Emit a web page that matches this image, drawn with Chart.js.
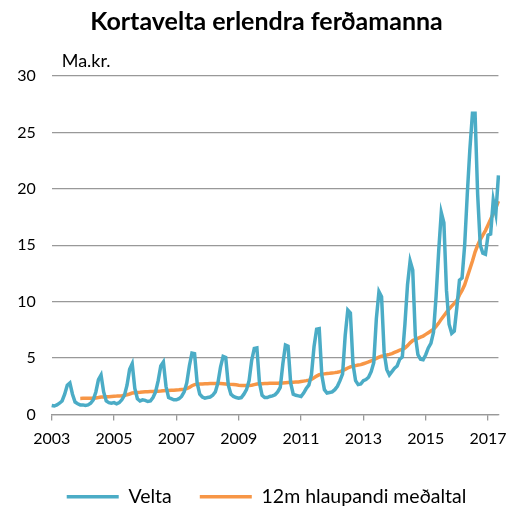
<!DOCTYPE html>
<html>
<head>
<meta charset="utf-8">
<script src="https://cdn.jsdelivr.net/npm/chart.js@4"></script>
<style>
  html, body { margin: 0; padding: 0; background: #fff; }
</style>
</head>
<body>
<canvas id="chartKortavelta" width="516" height="506"></canvas>
<script>
// Mánaðarleg kortavelta, ma.kr., jan 2003 - maí 2017
const velta = [
  0.8, 0.75, 0.85, 1.0, 1.2, 1.8, 2.6, 2.8, 1.8, 1.1, 0.95, 0.85,      // 2003
  0.85, 0.8, 0.85, 1.0, 1.3, 2.0, 3.1, 3.5, 2.0, 1.2, 1.05, 1.0,       // 2004
  1.05, 0.95, 1.05, 1.3, 1.7, 2.6, 4.0, 4.5, 2.3, 1.4, 1.2, 1.3,       // 2005
  1.25, 1.15, 1.2, 1.5, 2.0, 3.0, 4.3, 4.65, 2.5, 1.5, 1.4, 1.3,       // 2006
  1.3, 1.4, 1.6, 2.0, 2.8, 4.3, 5.45, 5.4, 2.8, 1.8, 1.55, 1.45,       // 2007
  1.5, 1.55, 1.7, 2.0, 2.8, 4.2, 5.15, 5.05, 2.6, 1.8, 1.6, 1.5,       // 2008
  1.45, 1.5, 1.8, 2.2, 3.0, 4.8, 5.85, 5.9, 2.8, 1.7, 1.5, 1.5,        // 2009
  1.6, 1.65, 1.75, 2.0, 2.4, 4.5, 6.15, 6.05, 2.8, 1.8, 1.7, 1.65,     // 2010
  1.6, 1.9, 2.3, 2.6, 3.5, 6.0, 7.55, 7.6, 3.5, 2.2, 1.9, 1.95,        // 2011
  2.0, 2.2, 2.5, 3.0, 3.6, 7.0, 9.25, 9.0, 4.5, 3.0, 2.65, 2.7,        // 2012
  3.0, 3.1, 3.3, 3.8, 4.6, 8.5, 10.9, 10.45, 5.5, 4.0, 3.5, 3.8,       // 2013
  4.1, 4.3, 4.9, 5.1, 8.0, 11.5, 13.6, 12.8, 7.0, 5.3, 4.9, 4.85,      // 2014
  5.3, 5.9, 6.3, 7.3, 10.5, 14.5, 17.9, 17.0, 11.0, 8.0, 7.2, 7.4,     // 2015
  9.5, 11.9, 12.1, 15.0, 19.5, 23.5, 26.7, 26.7, 19.5, 15.0, 14.3, 14.2, // 2016
  15.9, 16.0, 19.0, 17.8, 21.2                                          // 2017
];

// 12 mánaða hlaupandi meðaltal
const medaltal = [
  null, null, null, null, null, null, null, null, null, null, null, 1.42,
  1.43, 1.43, 1.44, 1.44, 1.45, 1.47, 1.5, 1.55, 1.56, 1.57, 1.58, 1.6,
  1.62, 1.63, 1.65, 1.67, 1.7, 1.75, 1.82, 1.9, 1.93, 1.95, 1.97, 2.0,
  2.02, 2.02, 2.03, 2.04, 2.05, 2.07, 2.08, 2.1, 2.12, 2.13, 2.14, 2.15,
  2.17, 2.19, 2.22, 2.25, 2.3, 2.4, 2.55, 2.65, 2.68, 2.7, 2.71, 2.72,
  2.73, 2.74, 2.74, 2.74, 2.74, 2.74, 2.72, 2.7, 2.68, 2.67, 2.65, 2.63,
  2.6, 2.58, 2.57, 2.57, 2.57, 2.6, 2.65, 2.7, 2.72, 2.73, 2.74, 2.75,
  2.76, 2.77, 2.78, 2.78, 2.79, 2.8, 2.82, 2.84, 2.85, 2.86, 2.87, 2.88,
  2.92, 2.96, 3.0, 3.05, 3.12, 3.25, 3.4, 3.52, 3.57, 3.6, 3.63, 3.65,
  3.68, 3.71, 3.75, 3.8, 3.88, 4.0, 4.12, 4.22, 4.28, 4.33, 4.38, 4.42,
  4.5, 4.58, 4.66, 4.75, 4.85, 4.97, 5.08, 5.17, 5.22, 5.27, 5.33, 5.4,
  5.5, 5.6, 5.7, 5.78, 5.9, 6.1, 6.35, 6.55, 6.65, 6.75, 6.85, 6.95,
  7.1, 7.25, 7.4, 7.55, 7.8, 8.1, 8.45, 8.75, 9.05, 9.35, 9.6, 9.85,
  10.1, 10.6, 11.0, 11.5, 12.2, 12.9, 13.6, 14.4, 15.0, 15.5, 15.9, 16.3,
  16.8, 17.3, 17.8, 18.3, 18.9
];

const arMerki = ['2003', '2005', '2007', '2009', '2011', '2013', '2015', '2017'];
const yMerki = [0, 5, 10, 15, 20, 25, 30];

const upphafsar = 2003;
const manudir = velta.map((v, i) =>
  (upphafsar + Math.floor(i / 12)) + '-' + String(i % 12 + 1).padStart(2, '0'));

const letur = 'Lato';

// "Ma.kr." efst til vinstri í teiknisvæði
const einingMerki = {
  id: 'einingMerki',
  afterDraw(chart) {
    const { ctx, chartArea } = chart;
    ctx.save();
    ctx.font = '18px ' + letur;
    ctx.fillStyle = '#000';
    ctx.textBaseline = 'middle';
    ctx.fillText('Ma.kr.', chartArea.left + 10, chartArea.top - 15);
    ctx.restore();
  }
};

const ctx = document.getElementById('chartKortavelta');

new Chart(ctx, {
  type: 'line',
  data: {
    labels: manudir,
    datasets: [{
      label: 'Velta',
      data: velta,
      borderColor: '#4BACC6',
      backgroundColor: '#4BACC6',
      borderWidth: 3.5,
      pointRadius: 0,
      tension: 0
    }, {
      label: '12m hlaupandi meðaltal',
      data: medaltal,
      borderColor: '#F79646',
      backgroundColor: '#F79646',
      borderWidth: 3.5,
      pointRadius: 0,
      tension: 0
    }]
  },
  options: {
    responsive: false,
    animation: false,
    layout: {
      padding: { left: 17, right: 0, top: 0, bottom: -10.5 }
    },
    plugins: {
      title: {
        display: true,
        text: 'Kortavelta erlendra ferðamanna',
        color: '#000',
        font: { family: letur, size: 25, weight: 'bold' },
        padding: { top: 6.5, bottom: 39.5 }
      },
      legend: {
        position: 'bottom',
        labels: {
          usePointStyle: true,
          pointStyle: 'line',
          pointStyleWidth: 52,
          padding: 28,
          color: '#000',
          font: { family: letur, size: 19.5 }
        }
      },
      tooltip: { enabled: false }
    },
    scales: {
      x: {
        afterBuildTicks: (axis) => {
          axis.ticks = axis.ticks.filter(t =>
            manudir[t.value].endsWith('-01') && arMerki.includes(manudir[t.value].slice(0, 4)));
        },
        afterFit: (axis) => { axis.height = 44.5; },
        ticks: {
          autoSkip: false,
          maxRotation: 0,
          padding: 9,
          color: '#000',
          font: { family: letur, size: 16 },
          callback: function (v) { return this.getLabelForValue(v).slice(0, 4); }
        },
        grid: { drawOnChartArea: false, tickLength: 6, color: '#999', lineWidth: 1.3 },
        border: { color: '#999', width: 1.3 }
      },
      y: {
        min: 0,
        max: 30,
        afterBuildTicks: (axis) => { axis.ticks = yMerki.map(v => ({ value: v })); },
        afterFit: (axis) => { axis.width = 34.7; },
        ticks: {
          padding: 16,
          color: '#000',
          font: { family: letur, size: 16 }
        },
        grid: { drawTicks: false, color: '#999', lineWidth: 1.3 },
        border: { display: false }
      },
      // tómur ás hægra megin, heldur teiknisvæðinu frá hægri brún
      hlidar: {
        position: 'right',
        afterFit: (axis) => { axis.width = 17; },
        ticks: { display: false },
        grid: { display: false },
        border: { display: false }
      }
    }
  },
  plugins: [einingMerki]
});
</script>
</body>
</html>
